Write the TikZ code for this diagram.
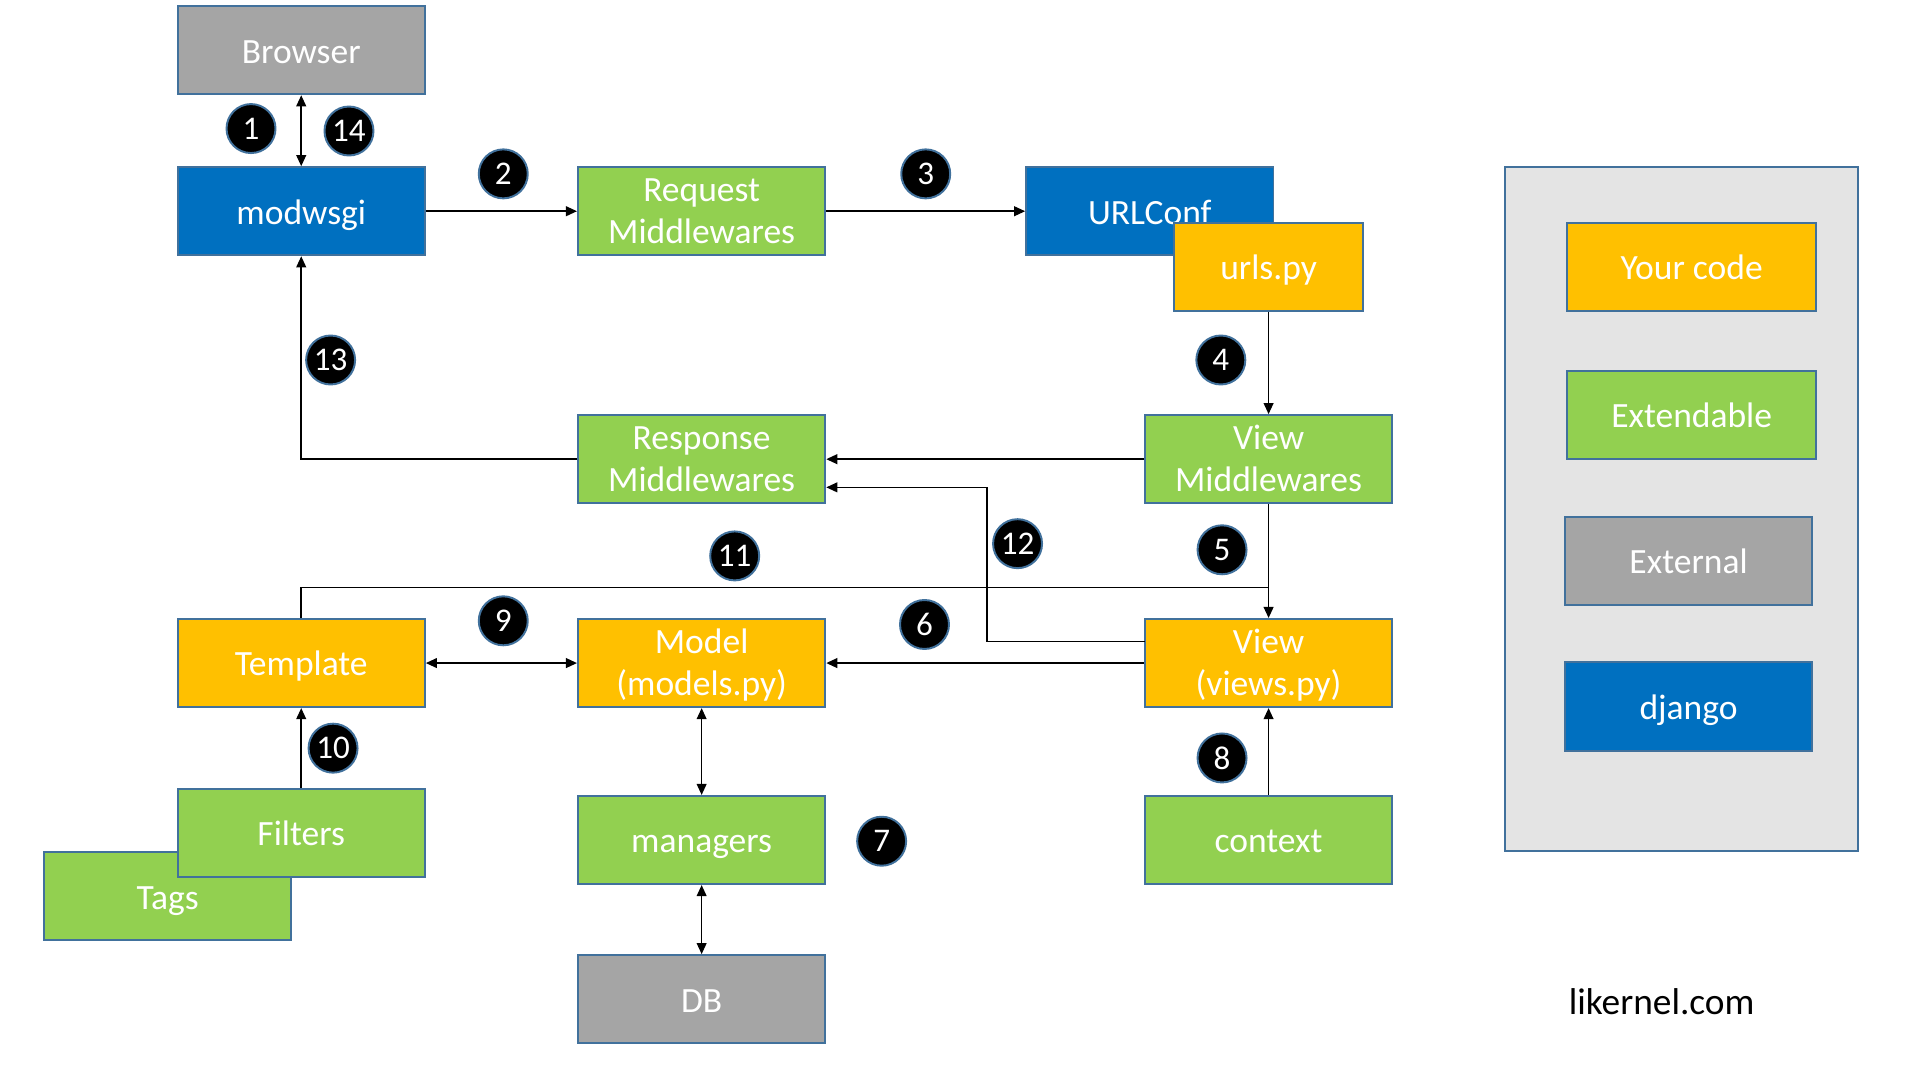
\documentclass[tikz,border=0pt]{standalone}
\usepackage{fontspec}
\setmainfont{Carlito}
\usetikzlibrary{arrows.meta}
\definecolor{cgreen}{HTML}{92D050}
\definecolor{cyellow}{HTML}{FFC000}
\definecolor{cblue}{HTML}{0070C0}
\definecolor{cgray}{HTML}{A5A5A5}
\definecolor{cborder}{HTML}{41719C}
\definecolor{cpanel}{HTML}{E4E4E4}
\newcommand{\boxstrut}{\rule[-6.5pt]{0pt}{34pt}}
\tikzset{
  box/.style={draw=cborder, line width=1.6pt, minimum width=202pt, minimum height=72pt,
    inner sep=0pt, text=white, align=center, font=\fontsize{29}{34}\selectfont,
    execute at begin node=\boxstrut, execute at end node=\boxstrut},
  twol/.style={text height=59.6pt, text depth=7pt},
  gbox/.style={box, fill=cgreen},
  ybox/.style={box, fill=cyellow},
  bbox/.style={box, fill=cblue},
  xbox/.style={box, fill=cgray},
  num/.style={circle, fill=black, draw=cborder, line width=1.6pt, minimum size=40pt,
    inner sep=0pt, text=white, font=\fontsize{27}{27}\selectfont},
  conn/.style={line width=1.2pt, draw=black},
  arr/.style={conn, -{Triangle[length=9pt,width=8pt]}},
  darr/.style={conn, {Triangle[length=9pt,width=8pt]}-{Triangle[length=9pt,width=8pt]}},
}
\begin{document}
\begin{tikzpicture}[x=1pt,y=-1pt]
\useasboundingbox (0,0) rectangle (1568,882);
\fill[white] (0,0) rectangle (1568,882);

% legend panel
\node[draw=cborder, line width=1.6pt, fill=cpanel, minimum width=288pt, minimum height=559pt, inner sep=0pt] (panel) at (1373,415.5) {};
\node[ybox, minimum width=203pt] (lyour) at (1381.5,218) {Your code};
\node[gbox, minimum width=203pt] (lext) at (1381.5,339) {Extendable};
\node[xbox] (lexternal) at (1379,458) {External};
\node[bbox] (ldjango) at (1379,577) {django};
\node[font=\fontsize{30.5}{30.5}\selectfont, text=black] (site) at (1357,818) {likernel.com};

% main boxes
\node[xbox] (browser) at (246,41) {Browser};
\node[bbox] (modwsgi) at (246,172.5) {modwsgi};
\node[gbox, twol] (req) at (573,172.5) {Request\\Middlewares};
\node[bbox] (urlconf) at (939,172.5) {URLConf};
\node[ybox, minimum width=154pt] (urls) at (1036,218) {urls.py};
\node[gbox, twol] (viewmw) at (1036,375) {View\\Middlewares};
\node[gbox, twol] (resp) at (573,375) {Response\\Middlewares};
\node[ybox] (tmpl) at (246,541.5) {Template};
\node[ybox, twol] (model) at (573,541.5) {Model\\(models.py)};
\node[ybox, twol] (view) at (1036,541.5) {View\\(views.py)};
\node[gbox] (tags) at (137,732) {Tags};
\node[gbox] (filters) at (246,680) {Filters};
\node[gbox] (managers) at (573,686) {managers};
\node[gbox] (context) at (1036,686) {context};
\node[xbox] (db) at (573,816) {DB};

% helper coordinates
\coordinate (j11) at (1036,480);
\coordinate (c12) at (806,398);
\coordinate (s12) at (935,524);

% connectors
\draw[darr] (browser) -- (modwsgi);
\draw[arr] (modwsgi) -- (req);
\draw[arr] (req) -- (urlconf);
\draw[arr] (urls) -- (viewmw);
\draw[arr] (viewmw) -- (resp);
\draw[arr] (resp.west) -| (modwsgi.south);
\draw[arr] (viewmw) -- (view);
\draw[conn] (tmpl.north) |- (j11);
\draw[arr] (s12) -| (c12) -- (resp.east |- c12);
\draw[arr] (view) -- (model);
\draw[darr] (tmpl) -- (model);
\draw[arr] (filters) -- (tmpl);
\draw[darr] (model) -- (managers);
\draw[darr] (managers) -- (db);
\draw[arr] (context) -- (view);

% number badges
\node[num] (n1) at (205,105) {1};
\node[num] (n14) at (285,107) {14};
\node[num] (n2) at (411,142) {2};
\node[num] (n3) at (756,142) {3};
\node[num] (n4) at (997,294) {4};
\node[num] (n13) at (270,294) {13};
\node[num] (n12) at (831,444) {12};
\node[num] (n11) at (600,454) {11};
\node[num] (n5) at (998,449) {5};
\node[num] (n9) at (411,507) {9};
\node[num] (n6) at (755,510) {6};
\node[num] (n10) at (272,611) {10};
\node[num] (n8) at (998,619) {8};
\node[num] (n7) at (720,687) {7};
\end{tikzpicture}
\end{document}
